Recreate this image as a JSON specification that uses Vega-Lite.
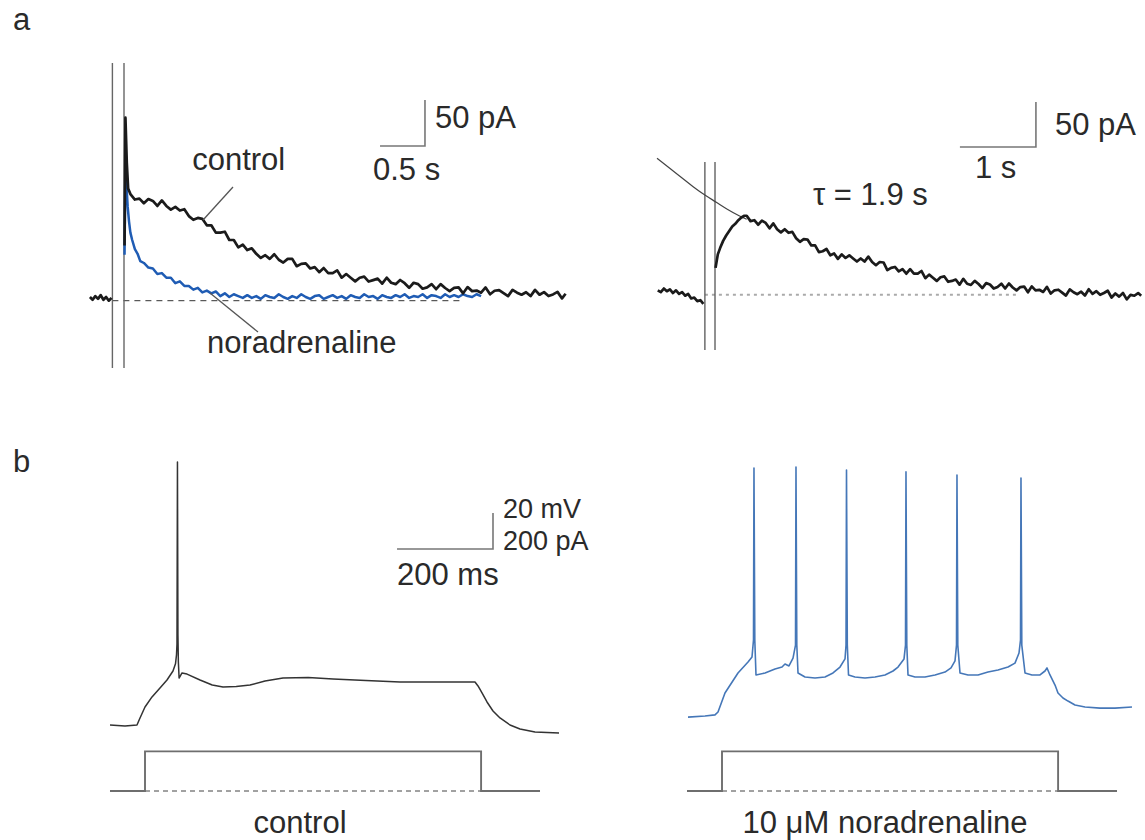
{
  "$schema": "https://vega.github.io/schema/vega-lite/v6.json",
  "padding": 0,
  "bounds": "flush",
  "align": "each",
  "columns": 2,
  "spacing": {"row": 30, "column": 20},
  "background": "white",
  "config": {
    "view": {"stroke": null},
    "axis": {"disable": true},
    "legend": {"disable": true},
    "text": {"font": "Liberation Sans", "fontSize": 31}
  },
  "datasets": {
    "a1stim": [{"t": 0, "lo": -73.2, "hi": 258.5}, {"t": 0.129, "lo": -73.2, "hi": 258.5}],
    "a1base": [{"t0": 0, "t1": 3.9, "i": 0}],
    "a1ctl": [
      {"s": 0, "t": -0.25, "i": 4}, {"s": 0, "t": -0.22, "i": 1}, {"s": 0, "t": -0.19, "i": 5}, {"s": 0, "t": -0.16, "i": 2}, {"s": 0, "t": -0.13, "i": 6}, {"s": 0, "t": -0.10, "i": 1}, {"s": 0, "t": -0.07, "i": 4}, {"s": 0, "t": -0.04, "i": 0}, {"s": 0, "t": -0.01, "i": 3},
      {"s": 1, "t": 0.135, "i": 60}, {"s": 1, "t": 0.145, "i": 199}, {"s": 1, "t": 0.16, "i": 150}, {"s": 1, "t": 0.175, "i": 122},
      {"s": 1, "t": 0.20, "i": 116}, {"s": 1, "t": 0.25, "i": 110}, {"s": 1, "t": 0.30, "i": 111}, {"s": 1, "t": 0.35, "i": 106}, {"s": 1, "t": 0.40, "i": 110.5}, {"s": 1, "t": 0.45, "i": 108.5}, {"s": 1, "t": 0.50, "i": 103}, {"s": 1, "t": 0.55, "i": 109}, {"s": 1, "t": 0.60, "i": 103}, {"s": 1, "t": 0.65, "i": 99}, {"s": 1, "t": 0.70, "i": 102}, {"s": 1, "t": 0.75, "i": 98}, {"s": 1, "t": 0.80, "i": 99.5}, {"s": 1, "t": 0.85, "i": 92}, {"s": 1, "t": 0.90, "i": 88}, {"s": 1, "t": 0.95, "i": 90}, {"s": 1, "t": 1.00, "i": 89}, {"s": 1, "t": 1.05, "i": 82}, {"s": 1, "t": 1.10, "i": 82}, {"s": 1, "t": 1.15, "i": 74}, {"s": 1, "t": 1.20, "i": 74}, {"s": 1, "t": 1.25, "i": 75}, {"s": 1, "t": 1.30, "i": 66}, {"s": 1, "t": 1.35, "i": 66}, {"s": 1, "t": 1.40, "i": 58}, {"s": 1, "t": 1.45, "i": 61}, {"s": 1, "t": 1.50, "i": 55}, {"s": 1, "t": 1.55, "i": 57}, {"s": 1, "t": 1.60, "i": 51}, {"s": 1, "t": 1.65, "i": 46.5}, {"s": 1, "t": 1.70, "i": 49.5}, {"s": 1, "t": 1.75, "i": 45.5}, {"s": 1, "t": 1.80, "i": 50.5}, {"s": 1, "t": 1.85, "i": 44.5}, {"s": 1, "t": 1.90, "i": 41.5}, {"s": 1, "t": 1.95, "i": 45.5}, {"s": 1, "t": 2.00, "i": 45.5}, {"s": 1, "t": 2.05, "i": 37.5}, {"s": 1, "t": 2.10, "i": 40}, {"s": 1, "t": 2.15, "i": 40.5}, {"s": 1, "t": 2.20, "i": 35}, {"s": 1, "t": 2.25, "i": 36.5}, {"s": 1, "t": 2.30, "i": 31}, {"s": 1, "t": 2.35, "i": 35.5}, {"s": 1, "t": 2.40, "i": 30}, {"s": 1, "t": 2.45, "i": 30}, {"s": 1, "t": 2.50, "i": 33}, {"s": 1, "t": 2.55, "i": 25}, {"s": 1, "t": 2.60, "i": 29}, {"s": 1, "t": 2.65, "i": 25}, {"s": 1, "t": 2.70, "i": 21}, {"s": 1, "t": 2.75, "i": 25}, {"s": 1, "t": 2.80, "i": 26.2}, {"s": 1, "t": 2.85, "i": 20.8}, {"s": 1, "t": 2.90, "i": 22.4}, {"s": 1, "t": 2.95, "i": 24}, {"s": 1, "t": 3.00, "i": 18.5}, {"s": 1, "t": 3.05, "i": 25}, {"s": 1, "t": 3.10, "i": 19.5}, {"s": 1, "t": 3.15, "i": 18}, {"s": 1, "t": 3.20, "i": 22.5}, {"s": 1, "t": 3.25, "i": 19}, {"s": 1, "t": 3.30, "i": 14}, {"s": 1, "t": 3.35, "i": 19.5}, {"s": 1, "t": 3.40, "i": 18}, {"s": 1, "t": 3.45, "i": 13}, {"s": 1, "t": 3.50, "i": 14.5}, {"s": 1, "t": 3.55, "i": 18}, {"s": 1, "t": 3.60, "i": 12.5}, {"s": 1, "t": 3.65, "i": 18}, {"s": 1, "t": 3.70, "i": 13.8}, {"s": 1, "t": 3.75, "i": 10.5}, {"s": 1, "t": 3.80, "i": 14}, {"s": 1, "t": 3.85, "i": 14.5}, {"s": 1, "t": 3.90, "i": 8}, {"s": 1, "t": 3.95, "i": 14.8}, {"s": 1, "t": 4.00, "i": 10.4}, {"s": 1, "t": 4.05, "i": 11}, {"s": 1, "t": 4.10, "i": 8.7}, {"s": 1, "t": 4.15, "i": 14.4}, {"s": 1, "t": 4.20, "i": 7}, {"s": 1, "t": 4.25, "i": 10.8}, {"s": 1, "t": 4.30, "i": 11.5}, {"s": 1, "t": 4.35, "i": 8.2}, {"s": 1, "t": 4.40, "i": 5}, {"s": 1, "t": 4.45, "i": 11.8}, {"s": 1, "t": 4.50, "i": 8.7}, {"s": 1, "t": 4.55, "i": 6.5}, {"s": 1, "t": 4.60, "i": 9.2}, {"s": 1, "t": 4.65, "i": 5}, {"s": 1, "t": 4.70, "i": 11.8}, {"s": 1, "t": 4.75, "i": 6.5}, {"s": 1, "t": 4.80, "i": 9.3}, {"s": 1, "t": 4.85, "i": 5}, {"s": 1, "t": 4.90, "i": 6.8}, {"s": 1, "t": 4.95, "i": 9.6}, {"s": 1, "t": 5.00, "i": 2.5}, {"s": 1, "t": 5.04, "i": 7.5}
    ],
    "a1nor": [
      {"t": 0.135, "i": 50}, {"t": 0.145, "i": 150}, {"t": 0.155, "i": 128}, {"t": 0.17, "i": 102}, {"t": 0.185, "i": 86}, {"t": 0.20, "i": 74}, {"t": 0.22, "i": 66}, {"t": 0.25, "i": 56}, {"t": 0.28, "i": 51}, {"t": 0.31, "i": 43}, {"t": 0.35, "i": 41}, {"t": 0.40, "i": 36}, {"t": 0.45, "i": 35}, {"t": 0.50, "i": 29}, {"t": 0.55, "i": 30}, {"t": 0.60, "i": 25}, {"t": 0.65, "i": 25}, {"t": 0.70, "i": 19}, {"t": 0.75, "i": 21}, {"t": 0.80, "i": 16}, {"t": 0.85, "i": 16}, {"t": 0.90, "i": 12}, {"t": 0.95, "i": 14}, {"t": 1.00, "i": 9}, {"t": 1.05, "i": 11}, {"t": 1.10, "i": 8}, {"t": 1.15, "i": 10}, {"t": 1.20, "i": 5}, {"t": 1.25, "i": 8}, {"t": 1.30, "i": 4}, {"t": 1.35, "i": 7}, {"t": 1.40, "i": 5}, {"t": 1.45, "i": 3}, {"t": 1.50, "i": 6}, {"t": 1.55, "i": 3}, {"t": 1.60, "i": 5}, {"t": 1.65, "i": 2}, {"t": 1.70, "i": 6}, {"t": 1.75, "i": 4}, {"t": 1.80, "i": 3}, {"t": 1.85, "i": 7}, {"t": 1.90, "i": 4}, {"t": 1.95, "i": 2}, {"t": 2.00, "i": 5}, {"t": 2.05, "i": 3}, {"t": 2.10, "i": 7}, {"t": 2.15, "i": 4}, {"t": 2.20, "i": 2}, {"t": 2.25, "i": 5}, {"t": 2.30, "i": 6}, {"t": 2.35, "i": 2}, {"t": 2.40, "i": 4}, {"t": 2.45, "i": 6}, {"t": 2.50, "i": 3}, {"t": 2.55, "i": 5}, {"t": 2.60, "i": 2}, {"t": 2.65, "i": 6}, {"t": 2.70, "i": 4}, {"t": 2.75, "i": 3}, {"t": 2.80, "i": 7}, {"t": 2.85, "i": 4}, {"t": 2.90, "i": 5}, {"t": 2.95, "i": 2}, {"t": 3.00, "i": 6}, {"t": 3.05, "i": 4}, {"t": 3.10, "i": 3}, {"t": 3.15, "i": 6}, {"t": 3.20, "i": 4}, {"t": 3.25, "i": 7}, {"t": 3.30, "i": 3}, {"t": 3.35, "i": 5}, {"t": 3.40, "i": 4}, {"t": 3.45, "i": 7}, {"t": 3.50, "i": 3}, {"t": 3.55, "i": 6}, {"t": 3.60, "i": 5}, {"t": 3.65, "i": 3}, {"t": 3.70, "i": 7}, {"t": 3.75, "i": 4}, {"t": 3.80, "i": 6}, {"t": 3.85, "i": 4}, {"t": 3.90, "i": 7}, {"t": 3.95, "i": 5}, {"t": 4.00, "i": 4}, {"t": 4.05, "i": 7}, {"t": 4.10, "i": 5}
    ],
    "a1lead": [{"t0": 1.341, "i0": 123.7, "t1": 1.008, "i1": 87.8}, {"t0": 1.085, "i0": 8.4, "t1": 1.619, "i1": -34}],
    "a1bar": [{"t": 2.976, "i": 168.2, "k": 0}, {"t": 3.476, "i": 168.2, "k": 1}, {"t": 3.476, "i": 218.2, "k": 2}],
    "a1text": [{"t": -1.105, "i": 294.4, "label": "a"}, {"t": 0.887, "i": 142.1, "label": "control"}, {"t": 1.052, "i": -56.9, "label": "noradrenaline"}, {"t": 3.587, "i": 187.8, "label": "50 pA"}, {"t": 2.898, "i": 131.3, "label": "0.5 s"}],
    "a2stim": [{"t": 0, "lo": -61.3, "hi": 147.7}, {"t": 0.133, "lo": -61.3, "hi": 147.7}],
    "a2base": [{"t0": 0, "t1": 4.1, "i": 0}],
    "a2fit": [{"t": -0.63, "i": 152}, {"t": -0.45, "i": 140}, {"t": -0.3, "i": 130}, {"t": -0.15, "i": 120}, {"t": 0, "i": 111}, {"t": 0.15, "i": 103}, {"t": 0.3, "i": 95}, {"t": 0.45, "i": 88}, {"t": 0.55, "i": 84}],
    "a2trace": [
      {"s": 0, "t": -0.62, "i": 5}, {"s": 0, "t": -0.58, "i": 3}, {"s": 0, "t": -0.54, "i": 7}, {"s": 0, "t": -0.50, "i": 4}, {"s": 0, "t": -0.46, "i": 6}, {"s": 0, "t": -0.42, "i": 2}, {"s": 0, "t": -0.38, "i": 5}, {"s": 0, "t": -0.34, "i": 1}, {"s": 0, "t": -0.30, "i": 3}, {"s": 0, "t": -0.26, "i": -1}, {"s": 0, "t": -0.22, "i": 1}, {"s": 0, "t": -0.18, "i": -4}, {"s": 0, "t": -0.14, "i": -3}, {"s": 0, "t": -0.10, "i": -7}, {"s": 0, "t": -0.06, "i": -6}, {"s": 0, "t": -0.02, "i": -10},
      {"s": 1, "t": 0.14, "i": 30}, {"s": 1, "t": 0.17, "i": 45}, {"s": 1, "t": 0.20, "i": 52}, {"s": 1, "t": 0.24, "i": 60}, {"s": 1, "t": 0.28, "i": 66}, {"s": 1, "t": 0.32, "i": 71}, {"s": 1, "t": 0.36, "i": 76}, {"s": 1, "t": 0.40, "i": 79}, {"s": 1, "t": 0.44, "i": 83}, {"s": 1, "t": 0.48, "i": 86}, {"s": 1, "t": 0.52, "i": 88},
      {"s": 1, "t": 0.55, "i": 88}, {"s": 1, "t": 0.60, "i": 82}, {"s": 1, "t": 0.65, "i": 83}, {"s": 1, "t": 0.70, "i": 78}, {"s": 1, "t": 0.75, "i": 82.5}, {"s": 1, "t": 0.80, "i": 80}, {"s": 1, "t": 0.85, "i": 74}, {"s": 1, "t": 0.90, "i": 79.5}, {"s": 1, "t": 0.95, "i": 73}, {"s": 1, "t": 1.00, "i": 69.5}, {"s": 1, "t": 1.05, "i": 73}, {"s": 1, "t": 1.10, "i": 69}, {"s": 1, "t": 1.15, "i": 70}, {"s": 1, "t": 1.20, "i": 63}, {"s": 1, "t": 1.25, "i": 59}, {"s": 1, "t": 1.30, "i": 62}, {"s": 1, "t": 1.35, "i": 61.5}, {"s": 1, "t": 1.40, "i": 55}, {"s": 1, "t": 1.45, "i": 55}, {"s": 1, "t": 1.50, "i": 47.5}, {"s": 1, "t": 1.55, "i": 48.5}, {"s": 1, "t": 1.60, "i": 51}, {"s": 1, "t": 1.65, "i": 44}, {"s": 1, "t": 1.70, "i": 46}, {"s": 1, "t": 1.75, "i": 40}, {"s": 1, "t": 1.80, "i": 45}, {"s": 1, "t": 1.85, "i": 41}, {"s": 1, "t": 1.90, "i": 44}, {"s": 1, "t": 1.95, "i": 40.5}, {"s": 1, "t": 2.00, "i": 37}, {"s": 1, "t": 2.05, "i": 40.5}, {"s": 1, "t": 2.10, "i": 37}, {"s": 1, "t": 2.15, "i": 42.5}, {"s": 1, "t": 2.20, "i": 36.5}, {"s": 1, "t": 2.25, "i": 33}, {"s": 1, "t": 2.30, "i": 36.5}, {"s": 1, "t": 2.35, "i": 36}, {"s": 1, "t": 2.40, "i": 27.5}, {"s": 1, "t": 2.45, "i": 30}, {"s": 1, "t": 2.50, "i": 31}, {"s": 1, "t": 2.55, "i": 26}, {"s": 1, "t": 2.60, "i": 28.5}, {"s": 1, "t": 2.65, "i": 23.5}, {"s": 1, "t": 2.70, "i": 28.5}, {"s": 1, "t": 2.75, "i": 23.5}, {"s": 1, "t": 2.80, "i": 23.5}, {"s": 1, "t": 2.85, "i": 26.5}, {"s": 1, "t": 2.90, "i": 18.5}, {"s": 1, "t": 2.95, "i": 22.5}, {"s": 1, "t": 3.00, "i": 19}, {"s": 1, "t": 3.05, "i": 15.5}, {"s": 1, "t": 3.10, "i": 19.5}, {"s": 1, "t": 3.15, "i": 20.5}, {"s": 1, "t": 3.20, "i": 14.5}, {"s": 1, "t": 3.25, "i": 15.5}, {"s": 1, "t": 3.30, "i": 17}, {"s": 1, "t": 3.35, "i": 11.3}, {"s": 1, "t": 3.40, "i": 17.8}, {"s": 1, "t": 3.45, "i": 12.3}, {"s": 1, "t": 3.50, "i": 11}, {"s": 1, "t": 3.55, "i": 15.5}, {"s": 1, "t": 3.60, "i": 12}, {"s": 1, "t": 3.65, "i": 7.5}, {"s": 1, "t": 3.70, "i": 13}, {"s": 1, "t": 3.75, "i": 11.5}, {"s": 1, "t": 3.80, "i": 7}, {"s": 1, "t": 3.85, "i": 8.8}, {"s": 1, "t": 3.90, "i": 12.4}, {"s": 1, "t": 3.95, "i": 7}, {"s": 1, "t": 4.00, "i": 12.6}, {"s": 1, "t": 4.05, "i": 8.2}, {"s": 1, "t": 4.10, "i": 4.9}, {"s": 1, "t": 4.15, "i": 8.6}, {"s": 1, "t": 4.20, "i": 9.2}, {"s": 1, "t": 4.25, "i": 2.8}, {"s": 1, "t": 4.30, "i": 9.4}, {"s": 1, "t": 4.35, "i": 5}, {"s": 1, "t": 4.40, "i": 5.6}, {"s": 1, "t": 4.45, "i": 3.2}, {"s": 1, "t": 4.50, "i": 8.8}, {"s": 1, "t": 4.55, "i": 1.4}, {"s": 1, "t": 4.60, "i": 5}, {"s": 1, "t": 4.65, "i": 5.7}, {"s": 1, "t": 4.70, "i": 2.4}, {"s": 1, "t": 4.75, "i": -0.8}, {"s": 1, "t": 4.80, "i": 6.1}, {"s": 1, "t": 4.85, "i": 2.9}, {"s": 1, "t": 4.90, "i": 0.7}, {"s": 1, "t": 4.95, "i": 3.5}, {"s": 1, "t": 5.00, "i": -0.7}, {"s": 1, "t": 5.05, "i": 6.2}, {"s": 1, "t": 5.10, "i": 1.1}, {"s": 1, "t": 5.15, "i": 4}, {"s": 1, "t": 5.20, "i": 0}, {"s": 1, "t": 5.25, "i": 2}, {"s": 1, "t": 5.30, "i": 4.5}, {"s": 1, "t": 5.35, "i": -3}, {"s": 1, "t": 5.40, "i": 1.5}, {"s": 1, "t": 5.45, "i": -2}, {"s": 1, "t": 5.50, "i": 2}, {"s": 1, "t": 5.55, "i": -5}, {"s": 1, "t": 5.60, "i": 0}, {"s": 1, "t": 5.65, "i": -1}, {"s": 1, "t": 5.70, "i": 2}, {"s": 1, "t": 5.74, "i": -1}
    ],
    "a2bar": [{"t": 3.355, "i": 164.4, "k": 0}, {"t": 4.355, "i": 164.4, "k": 1}, {"t": 4.355, "i": 214.4, "k": 2}],
    "a2text": [{"t": 4.606, "i": 177.8, "label": "50 pA"}, {"t": 3.553, "i": 129.9, "label": "1 s"}, {"t": 1.422, "i": 99.9, "label": "τ = 1.9 s"}],
    "step": [{"t": -72.9, "i": 0, "k": 0}, {"t": 0, "i": 0, "k": 1}, {"t": 0, "i": 220, "k": 2}, {"t": 700, "i": 220, "k": 3}, {"t": 700, "i": 0, "k": 4}, {"t": 822.7, "i": 0, "k": 5}],
    "stepbase": [{"t0": 0, "t1": 700, "i": 0}],
    "b1v": [
      {"t": -72.9, "v": -65}, {"t": -41.7, "v": -65.6}, {"t": -16.7, "v": -65}, {"t": -10.4, "v": -61.1}, {"t": 0, "v": -55}, {"t": 14.6, "v": -49.4}, {"t": 31.2, "v": -44.4}, {"t": 45.8, "v": -40}, {"t": 58.3, "v": -35}, {"t": 63.5, "v": -31}, {"t": 65.6, "v": -26}, {"t": 66.6, "v": -20}, {"t": 67.6, "v": 81.1}, {"t": 68.6, "v": -15}, {"t": 69.5, "v": -30}, {"t": 71, "v": -38.9}, {"t": 77.1, "v": -36.1}, {"t": 87.5, "v": -36.7}, {"t": 114.6, "v": -40}, {"t": 140, "v": -42.8}, {"t": 162.5, "v": -43.9}, {"t": 190, "v": -43.6}, {"t": 218.7, "v": -42.8}, {"t": 250, "v": -40.6}, {"t": 287.4, "v": -38.9}, {"t": 340, "v": -38.6}, {"t": 391.6, "v": -39.4}, {"t": 460, "v": -40.3}, {"t": 531.1, "v": -41.1}, {"t": 614.4, "v": -41.1}, {"t": 687.3, "v": -41.1}, {"t": 693.6, "v": -43.3}, {"t": 701.9, "v": -47.2}, {"t": 712.3, "v": -52.2}, {"t": 724.8, "v": -57.2}, {"t": 739.4, "v": -61.1}, {"t": 760.2, "v": -65}, {"t": 781, "v": -67.2}, {"t": 812.3, "v": -68.9}, {"t": 862.3, "v": -69.4}
    ],
    "b1bar": [{"t": 524.9, "v": 32.8, "k": 0}, {"t": 724.8, "v": 32.8, "k": 1}, {"t": 724.8, "v": 52.8, "k": 2}],
    "b1text": [{"t": -274.9, "v": 75.6, "label": "b"}, {"t": 524.9, "v": 12.8, "label": "200 ms"}],
    "b1small": [{"t": 745.6, "v": 50, "label": "20 mV"}, {"t": 745.6, "v": 32.2, "label": "200 pA"}],
    "b1label": [{"t": 322.8, "v": -125, "label": "control"}],
    "b2v": [
      {"t": -70.8, "v": -60.6}, {"t": -35.4, "v": -60}, {"t": -14.6, "v": -59.4}, {"t": -8.3, "v": -57.8}, {"t": 6.2, "v": -47.2}, {"t": 33.3, "v": -36.1}, {"t": 54.2, "v": -30}, {"t": 62.5, "v": -27.2},
      {"t": 65.6, "v": -17.8}, {"t": 66.6, "v": 77.8}, {"t": 68.3, "v": -17.8}, {"t": 70.8, "v": -37.2}, {"t": 89.6, "v": -36.1}, {"t": 110.4, "v": -33.9}, {"t": 125, "v": -32.8}, {"t": 131.2, "v": -31.1}, {"t": 139.5, "v": -32.2}, {"t": 147.9, "v": -27.8},
      {"t": 153.1, "v": -20.6}, {"t": 154.1, "v": 78.3}, {"t": 155.8, "v": -20.6}, {"t": 158.3, "v": -36.1}, {"t": 172.9, "v": -38.3}, {"t": 193.7, "v": -38.9}, {"t": 214.5, "v": -38.3}, {"t": 231.2, "v": -36.1}, {"t": 245.8, "v": -32.8}, {"t": 256.2, "v": -28.3},
      {"t": 258.3, "v": -20.6}, {"t": 259.3, "v": 76.7}, {"t": 261.0, "v": -20.6}, {"t": 263.5, "v": -37.2}, {"t": 277, "v": -38.3}, {"t": 297.8, "v": -38.9}, {"t": 318.7, "v": -38.3}, {"t": 339.5, "v": -37.2}, {"t": 356.2, "v": -35}, {"t": 366.6, "v": -32.8}, {"t": 379.1, "v": -28.3},
      {"t": 382.2, "v": -20.6}, {"t": 383.2, "v": 75.6}, {"t": 384.9, "v": -20.6}, {"t": 387.4, "v": -37.2}, {"t": 402, "v": -38.3}, {"t": 422.8, "v": -38.3}, {"t": 443.6, "v": -37.2}, {"t": 464.5, "v": -35.6}, {"t": 477, "v": -33.3}, {"t": 485.3, "v": -29.4},
      {"t": 488.4, "v": -20.6}, {"t": 489.4, "v": 73.9}, {"t": 491.1, "v": -20.6}, {"t": 495.7, "v": -36.1}, {"t": 512.4, "v": -37.2}, {"t": 533.2, "v": -37.2}, {"t": 554, "v": -35.6}, {"t": 574.8, "v": -34.4}, {"t": 595.7, "v": -32.8}, {"t": 610.2, "v": -30.6}, {"t": 618.6, "v": -25},
      {"t": 621.7, "v": -17.8}, {"t": 622.7, "v": 72.2}, {"t": 624.4, "v": -20.6}, {"t": 631.1, "v": -36.1}, {"t": 645.6, "v": -37.2}, {"t": 662.3, "v": -37.2}, {"t": 672.7, "v": -35}, {"t": 676.9, "v": -33.3}, {"t": 683.1, "v": -37.2}, {"t": 693.6, "v": -42.8}, {"t": 699.8, "v": -47.2}, {"t": 710.2, "v": -50}, {"t": 720.6, "v": -51.7}, {"t": 735.2, "v": -53.9}, {"t": 756.1, "v": -55}, {"t": 787.3, "v": -55.6}, {"t": 818.5, "v": -55.6}, {"t": 853.9, "v": -55}
    ],
    "b2label": [{"t": 339.5, "v": -125, "label": "10 μM noradrenaline"}]
  },
  "concat": [
    {
      "width": 580,
      "height": 400,
      "layer": [
        {"data": {"name": "a1base"}, "mark": {"type": "rule", "color": "#333", "strokeWidth": 1, "strokeDash": [6, 5]},
         "encoding": {"x": {"field": "t0", "type": "quantitative", "scale": {"domain": [-1.25, 5.2], "nice": false, "zero": false}}, "x2": {"field": "t1"}, "y": {"field": "i", "type": "quantitative", "scale": {"domain": [-108, 327], "nice": false, "zero": false}}}},
        {"data": {"name": "a1stim"}, "mark": {"type": "rule", "color": "#666", "strokeWidth": 1.4},
         "encoding": {"x": {"field": "t", "type": "quantitative", "scale": {"domain": [-1.25, 5.2], "nice": false, "zero": false}}, "y": {"field": "lo", "type": "quantitative", "scale": {"domain": [-108, 327], "nice": false, "zero": false}}, "y2": {"field": "hi"}}},
        {"data": {"name": "a1nor"}, "mark": {"type": "line", "color": "#1f5cb4", "strokeWidth": 2.5, "strokeJoin": "round"},
         "encoding": {"x": {"field": "t", "type": "quantitative", "scale": {"domain": [-1.25, 5.2], "nice": false, "zero": false}}, "y": {"field": "i", "type": "quantitative", "scale": {"domain": [-108, 327], "nice": false, "zero": false}}}},
        {"data": {"name": "a1ctl"}, "mark": {"type": "line", "color": "#1b1b1b", "strokeWidth": 2.7, "strokeJoin": "round"},
         "encoding": {"x": {"field": "t", "type": "quantitative", "scale": {"domain": [-1.25, 5.2], "nice": false, "zero": false}}, "y": {"field": "i", "type": "quantitative", "scale": {"domain": [-108, 327], "nice": false, "zero": false}}, "detail": {"field": "s", "type": "nominal"}}},
        {"data": {"name": "a1lead"}, "mark": {"type": "rule", "color": "#555", "strokeWidth": 1.3},
         "encoding": {"x": {"field": "t0", "type": "quantitative", "scale": {"domain": [-1.25, 5.2], "nice": false, "zero": false}}, "x2": {"field": "t1"}, "y": {"field": "i0", "type": "quantitative", "scale": {"domain": [-108, 327], "nice": false, "zero": false}}, "y2": {"field": "i1"}}},
        {"data": {"name": "a1bar"}, "mark": {"type": "line", "color": "#777", "strokeWidth": 1.6},
         "encoding": {"x": {"field": "t", "type": "quantitative", "scale": {"domain": [-1.25, 5.2], "nice": false, "zero": false}}, "y": {"field": "i", "type": "quantitative", "scale": {"domain": [-108, 327], "nice": false, "zero": false}}, "order": {"field": "k"}}},
        {"data": {"name": "a1text"}, "mark": {"type": "text", "align": "left", "baseline": "alphabetic", "fill": "#2a2a2a", "font": "Liberation Sans", "fontSize": 31},
         "encoding": {"x": {"field": "t", "type": "quantitative", "scale": {"domain": [-1.25, 5.2], "nice": false, "zero": false}}, "y": {"field": "i", "type": "quantitative", "scale": {"domain": [-108, 327], "nice": false, "zero": false}}, "text": {"field": "label"}}}
      ]
    },
    {
      "width": 545,
      "height": 400,
      "layer": [
        {"data": {"name": "a2base"}, "mark": {"type": "rule", "color": "#aaa", "strokeWidth": 2, "strokeDash": [3, 4]},
         "encoding": {"x": {"field": "t0", "type": "quantitative", "scale": {"domain": [-1.38, 5.79], "nice": false, "zero": false}}, "x2": {"field": "t1"}, "y": {"field": "i", "type": "quantitative", "scale": {"domain": [-117, 328], "nice": false, "zero": false}}}},
        {"data": {"name": "a2stim"}, "mark": {"type": "rule", "color": "#555", "strokeWidth": 1.3},
         "encoding": {"x": {"field": "t", "type": "quantitative", "scale": {"domain": [-1.38, 5.79], "nice": false, "zero": false}}, "y": {"field": "lo", "type": "quantitative", "scale": {"domain": [-117, 328], "nice": false, "zero": false}}, "y2": {"field": "hi"}}},
        {"data": {"name": "a2fit"}, "mark": {"type": "line", "color": "#444", "strokeWidth": 1.2, "interpolate": "monotone"},
         "encoding": {"x": {"field": "t", "type": "quantitative", "scale": {"domain": [-1.38, 5.79], "nice": false, "zero": false}}, "y": {"field": "i", "type": "quantitative", "scale": {"domain": [-117, 328], "nice": false, "zero": false}}}},
        {"data": {"name": "a2trace"}, "mark": {"type": "line", "color": "#1b1b1b", "strokeWidth": 2.7, "strokeJoin": "round"},
         "encoding": {"x": {"field": "t", "type": "quantitative", "scale": {"domain": [-1.38, 5.79], "nice": false, "zero": false}}, "y": {"field": "i", "type": "quantitative", "scale": {"domain": [-117, 328], "nice": false, "zero": false}}, "detail": {"field": "s", "type": "nominal"}}},
        {"data": {"name": "a2bar"}, "mark": {"type": "line", "color": "#777", "strokeWidth": 1.6},
         "encoding": {"x": {"field": "t", "type": "quantitative", "scale": {"domain": [-1.38, 5.79], "nice": false, "zero": false}}, "y": {"field": "i", "type": "quantitative", "scale": {"domain": [-117, 328], "nice": false, "zero": false}}, "order": {"field": "k"}}},
        {"data": {"name": "a2text"}, "mark": {"type": "text", "align": "left", "baseline": "alphabetic", "fill": "#2a2a2a", "font": "Liberation Sans", "fontSize": 31},
         "encoding": {"x": {"field": "t", "type": "quantitative", "scale": {"domain": [-1.38, 5.79], "nice": false, "zero": false}}, "y": {"field": "i", "type": "quantitative", "scale": {"domain": [-117, 328], "nice": false, "zero": false}}, "text": {"field": "label"}}}
      ]
    },
    {
      "width": 580,
      "height": 410,
      "resolve": {"scale": {"y": "independent"}},
      "layer": [
        {"data": {"name": "stepbase"}, "mark": {"type": "rule", "color": "#444", "strokeWidth": 1, "strokeDash": [5, 4]},
         "encoding": {"x": {"field": "t0", "type": "quantitative", "scale": {"domain": [-302, 906], "nice": false, "zero": false}}, "x2": {"field": "t1"}, "y": {"field": "i", "type": "quantitative", "scale": {"domain": [-272.2, 2005.6], "nice": false, "zero": false}}}},
        {"data": {"name": "step"}, "mark": {"type": "line", "color": "#6e6e6e", "strokeWidth": 1.9},
         "encoding": {"x": {"field": "t", "type": "quantitative", "scale": {"domain": [-302, 906], "nice": false, "zero": false}}, "y": {"field": "i", "type": "quantitative", "scale": {"domain": [-272.2, 2005.6], "nice": false, "zero": false}}, "order": {"field": "k"}}},
        {"data": {"name": "b1v"}, "mark": {"type": "line", "color": "#333", "strokeWidth": 1.5, "strokeJoin": "round"},
         "encoding": {"x": {"field": "t", "type": "quantitative", "scale": {"domain": [-302, 906], "nice": false, "zero": false}}, "y": {"field": "v", "type": "quantitative", "scale": {"domain": [-128.89, 98.89], "nice": false, "zero": false}}}},
        {"data": {"name": "b1bar"}, "mark": {"type": "line", "color": "#777", "strokeWidth": 1.6},
         "encoding": {"x": {"field": "t", "type": "quantitative", "scale": {"domain": [-302, 906], "nice": false, "zero": false}}, "y": {"field": "v", "type": "quantitative", "scale": {"domain": [-128.89, 98.89], "nice": false, "zero": false}}, "order": {"field": "k"}}},
        {"data": {"name": "b1text"}, "mark": {"type": "text", "align": "left", "baseline": "alphabetic", "fill": "#2a2a2a", "font": "Liberation Sans", "fontSize": 31},
         "encoding": {"x": {"field": "t", "type": "quantitative", "scale": {"domain": [-302, 906], "nice": false, "zero": false}}, "y": {"field": "v", "type": "quantitative", "scale": {"domain": [-128.89, 98.89], "nice": false, "zero": false}}, "text": {"field": "label"}}},
        {"data": {"name": "b1small"}, "mark": {"type": "text", "align": "left", "baseline": "alphabetic", "fill": "#2a2a2a", "font": "Liberation Sans", "fontSize": 27},
         "encoding": {"x": {"field": "t", "type": "quantitative", "scale": {"domain": [-302, 906], "nice": false, "zero": false}}, "y": {"field": "v", "type": "quantitative", "scale": {"domain": [-128.89, 98.89], "nice": false, "zero": false}}, "text": {"field": "label"}}},
        {"data": {"name": "b1label"}, "mark": {"type": "text", "align": "center", "baseline": "alphabetic", "fill": "#2a2a2a", "font": "Liberation Sans", "fontSize": 31},
         "encoding": {"x": {"field": "t", "type": "quantitative", "scale": {"domain": [-302, 906], "nice": false, "zero": false}}, "y": {"field": "v", "type": "quantitative", "scale": {"domain": [-128.89, 98.89], "nice": false, "zero": false}}, "text": {"field": "label"}}}
      ]
    },
    {
      "width": 545,
      "height": 410,
      "resolve": {"scale": {"y": "independent"}},
      "layer": [
        {"data": {"name": "stepbase"}, "mark": {"type": "rule", "color": "#444", "strokeWidth": 1, "strokeDash": [5, 4]},
         "encoding": {"x": {"field": "t0", "type": "quantitative", "scale": {"domain": [-254.1, 881.0], "nice": false, "zero": false}}, "x2": {"field": "t1"}, "y": {"field": "i", "type": "quantitative", "scale": {"domain": [-272.2, 2005.6], "nice": false, "zero": false}}}},
        {"data": {"name": "step"}, "mark": {"type": "line", "color": "#6e6e6e", "strokeWidth": 1.9},
         "encoding": {"x": {"field": "t", "type": "quantitative", "scale": {"domain": [-254.1, 881.0], "nice": false, "zero": false}}, "y": {"field": "i", "type": "quantitative", "scale": {"domain": [-272.2, 2005.6], "nice": false, "zero": false}}, "order": {"field": "k"}}},
        {"data": {"name": "b2v"}, "mark": {"type": "line", "color": "#4577b8", "strokeWidth": 1.6, "strokeJoin": "round"},
         "encoding": {"x": {"field": "t", "type": "quantitative", "scale": {"domain": [-254.1, 881.0], "nice": false, "zero": false}}, "y": {"field": "v", "type": "quantitative", "scale": {"domain": [-128.89, 98.89], "nice": false, "zero": false}}}},
        {"data": {"name": "b2label"}, "mark": {"type": "text", "align": "center", "baseline": "alphabetic", "fill": "#2a2a2a", "font": "Liberation Sans", "fontSize": 31},
         "encoding": {"x": {"field": "t", "type": "quantitative", "scale": {"domain": [-254.1, 881.0], "nice": false, "zero": false}}, "y": {"field": "v", "type": "quantitative", "scale": {"domain": [-128.89, 98.89], "nice": false, "zero": false}}, "text": {"field": "label"}}}
      ]
    }
  ]
}
